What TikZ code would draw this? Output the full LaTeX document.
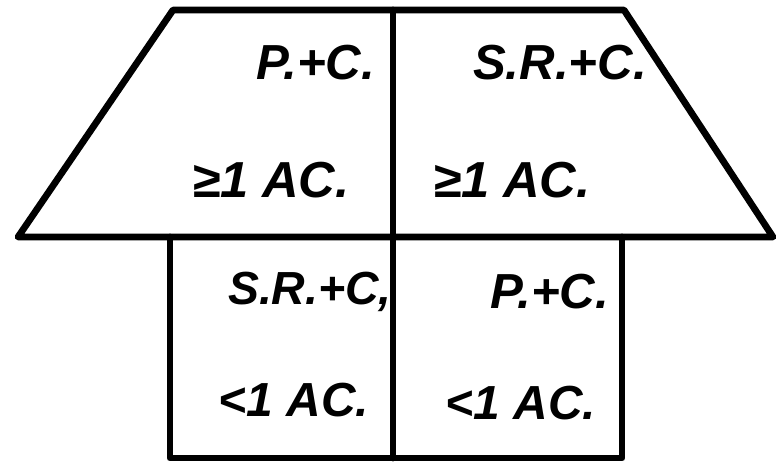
\documentclass[tikz,border=0pt]{standalone}
\usepackage{fontspec}
\setmainfont{Liberation Sans}
\begin{document}
\begin{tikzpicture}[x=0.025cm, y=-0.025cm, line join=round, line cap=round]
      \tikzset{wall/.style={draw, line width=4.8pt},
               lbl/.style={inner sep=0pt, font=\fontsize{35}{35}\selectfont\bfseries\itshape},
               rule/.style={inner sep=0pt, font=\fontsize{36}{36}\selectfont\bfseries\itshape}}
      \useasboundingbox (0,0) rectangle (780,463);
      % roof and lower block
      \coordinate (tl) at (173,10);
      \coordinate (tr) at (624,10);
      \coordinate (br) at (773,237);
      \coordinate (bl) at (18,237);
      \draw[wall] (tl) -- (tr) -- (br) -- (bl) -- cycle;
      \draw[wall] (170,237) -- (170,458) -- (622,458) -- (622,237);
      \draw[wall] (393,10) -- (393,458);
      % labels
      \node[lbl] (pcTop) at (316,63) {P.+C.};
      \node[lbl] (srcTop) at (560,63) {S.R.+C.};
      \node[rule] (geLeft) at (271,180) {≥1 AC.};
      \node[rule] (geRight) at (512,180) {≥1 AC.};
      \node[lbl, font=\fontsize{33}{33}\selectfont\bfseries\itshape] (srcLow) at (310,292) {S.R.+C,};
      \node[lbl] (pcLow) at (550,292) {P.+C.};
      \node[rule, font=\fontsize{34}{34}\selectfont\bfseries\itshape] (ltLeft) at (294,400) {<1 AC.};
      \node[rule, font=\fontsize{34}{34}\selectfont\bfseries\itshape] (ltRight) at (521,403) {<1 AC.};
    \end{tikzpicture}
\end{document}
